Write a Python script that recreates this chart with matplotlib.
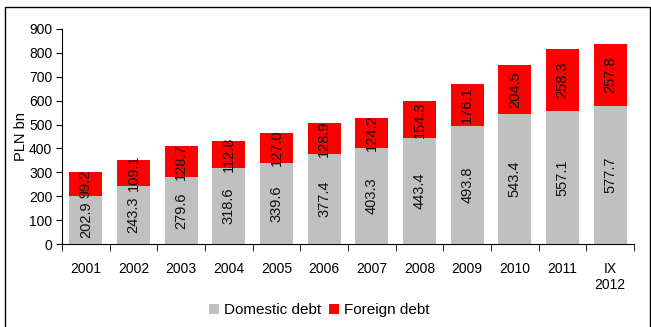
import matplotlib
matplotlib.use("Agg")
import matplotlib.pyplot as plt
from matplotlib.patches import Rectangle
import numpy as np

plt.rcParams['font.family'] = ['Liberation Sans', 'DejaVu Sans']

years = ["2001", "2002", "2003", "2004", "2005", "2006", "2007", "2008",
         "2009", "2010", "2011", "IX\n2012"]
domestic = [202.9, 243.3, 279.6, 318.6, 339.6, 377.4, 403.3, 443.4,
            493.8, 543.4, 557.1, 577.7]
foreign = [99.2, 109.1, 128.7, 112.8, 127.0, 128.9, 124.2, 154.3,
           176.1, 204.5, 258.3, 257.8]

fig = plt.figure(figsize=(6.51, 3.27), dpi=100)
ax = fig.add_axes([62 / 651, 1 - 244 / 327, (634 - 62) / 651, (244 - 29) / 327])

x = np.arange(len(years))
w = 0.69
b1 = ax.bar(x, domestic, width=w, color="#c0c0c0", label="Domestic debt")
b2 = ax.bar(x, foreign, width=w, bottom=domestic, color="#ff0000", label="Foreign debt")

for xi, d, f in zip(x, domestic, foreign):
    ax.text(xi, d / 2, f"{d:.1f}", rotation=90, ha="center", va="center",
            fontsize=10.5, color="#111111")
    ax.text(xi, d + f / 2, f"{f:.1f}", rotation=90, ha="center", va="center",
            fontsize=10.5, color="#111111")

ax.set_xlim(-0.5, len(years) - 0.5)
ax.set_ylim(0, 900)
ax.set_yticks(range(0, 901, 100))
ax.tick_params(axis="y", labelsize=10, length=4, direction="out", pad=3)
ax.set_xticks(x)
ax.set_xticklabels(years, fontsize=10)
ax.tick_params(axis="x", length=0, pad=13)
ax.set_xticks(np.arange(-0.5, len(years), 1), minor=True)
ax.tick_params(axis="x", which="minor", length=5, direction="out")
ax.set_ylabel("PLN bn", fontsize=10.5, labelpad=1)

for s in ("top", "right"):
    ax.spines[s].set_visible(False)
for s in ("left", "bottom"):
    ax.spines[s].set_color("#000000")
    ax.spines[s].set_linewidth(0.8)

fig.legend(handles=[b1, b2], loc="center", bbox_to_anchor=(0.49, 1 - 310 / 327),
           ncol=2, frameon=False, fontsize=11, handlelength=0.65, handleheight=0.65,
           handletextpad=0.35, columnspacing=0.5, borderaxespad=0)

# outer frame
fig.patches.append(Rectangle((5 / 651, -0.01), (650 - 5) / 651, 1 - 7 / 327 + 0.01,
                             transform=fig.transFigure, fill=False,
                             edgecolor="#000000", linewidth=1.0))

fig.savefig("out.png", dpi=100)
